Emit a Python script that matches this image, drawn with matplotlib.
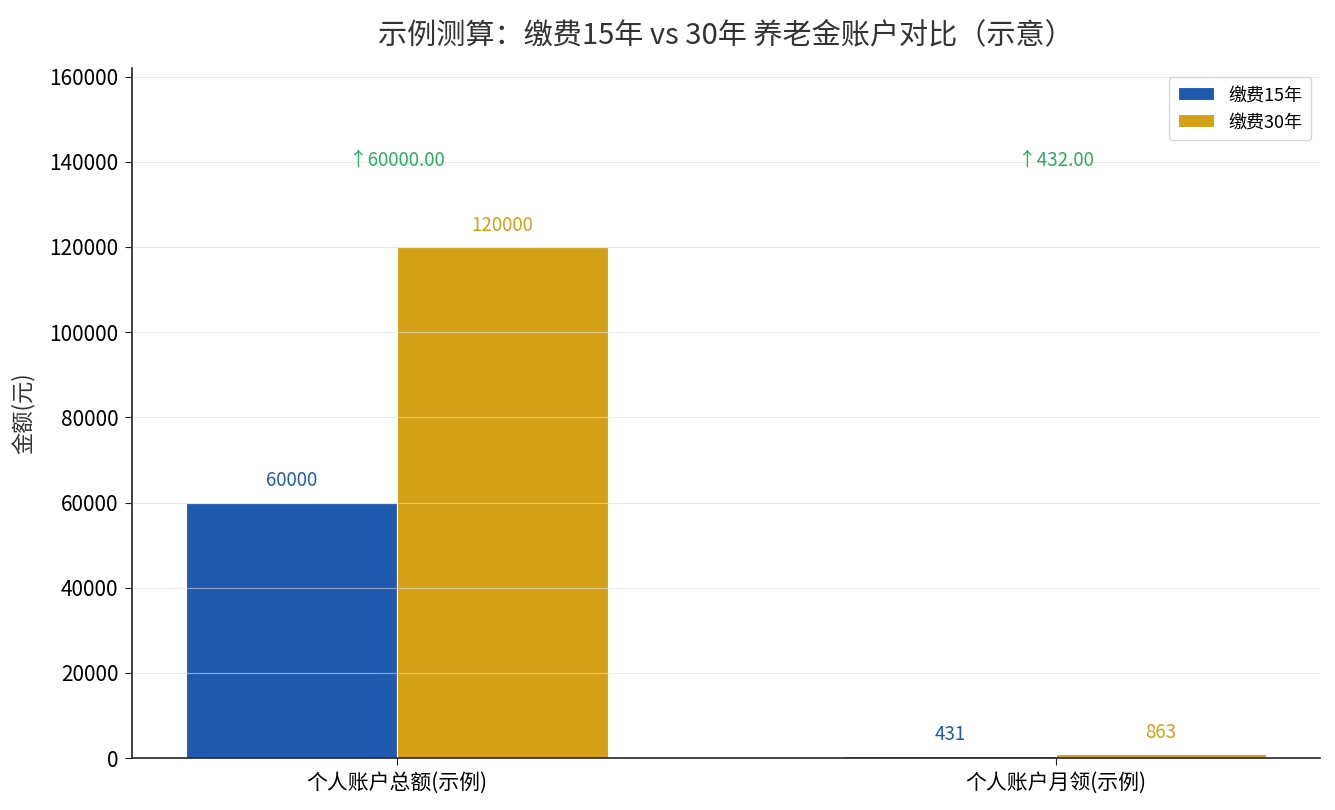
import numpy as np
import matplotlib.pyplot as plt

plt.rcParams['font.family'] = ['Noto Sans CJK SC', 'DejaVu Sans']

# data
categories = ['个人账户总额(示例)', '个人账户月领(示例)']
series_names = ['缴费15年', '缴费30年']
values_15 = [60000, 431]
values_30 = [120000, 863]
diff_labels = ['↑60000.00', '↑432.00']

colors = ['#1f5aae', '#d4a017']
green = '#27ae60'

fig, ax = plt.subplots(figsize=(13.35, 8.1), dpi=100)

x = np.arange(len(categories))
width = 0.32

bars1 = ax.bar(x - width / 2, values_15, width, color=colors[0], edgecolor='white',
               linewidth=0.8, label=series_names[0])
bars2 = ax.bar(x + width / 2, values_30, width, color=colors[1], edgecolor='white',
               linewidth=0.8, label=series_names[1])

ymax = max(values_30) * 1.35
ax.set_ylim(0, ymax)

# value labels on top of bars
for bars, c in [(bars1, colors[0]), (bars2, colors[1])]:
    for b in bars:
        h = b.get_height()
        ax.annotate(f'{h:.0f}', (b.get_x() + b.get_width() / 2, h),
                    xytext=(0, 8), textcoords='offset points',
                    ha='center', va='bottom', fontsize=13.5, color=c)

# difference labels
for i, t in enumerate(diff_labels):
    ax.text(x[i], 140300, t, ha='center', va='center', fontsize=13.5, color=green)

ax.set_xticks(x)
ax.set_xticklabels(categories, fontsize=15)
ax.tick_params(axis='y', labelsize=15)
ax.tick_params(axis='both', colors='#222222', labelcolor='black', length=5, pad=5)
ax.set_ylabel('金额(元)', fontsize=16, color='#333333', labelpad=10)
ax.set_title('示例测算：缴费15年 vs 30年 养老金账户对比（示意）', fontsize=21,
             color='#333333', pad=18)

ax.grid(axis='y', color='#dddddd', alpha=0.6, linewidth=0.8)
ax.set_axisbelow(False)
ax.spines['top'].set_visible(False)
ax.spines['right'].set_visible(False)
for s in ['left', 'bottom']:
    ax.spines[s].set_color('#222222')
    ax.spines[s].set_linewidth(1.2)

ax.legend(loc='upper right', fontsize=13, frameon=True, borderpad=0.5)

plt.subplots_adjust(left=0.099, right=0.989, top=0.916, bottom=0.064)
plt.savefig('out.png', dpi=100)
